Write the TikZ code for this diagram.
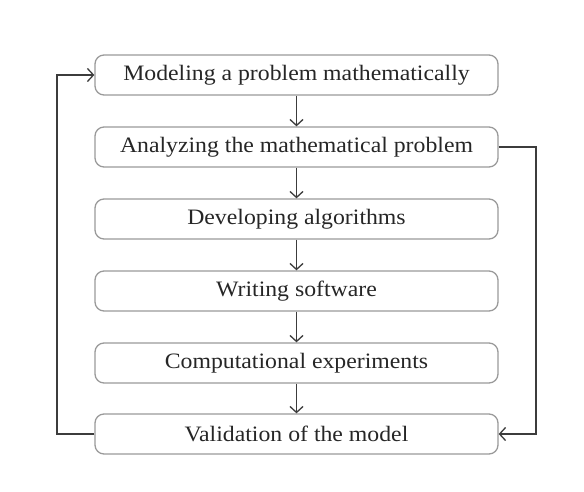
\documentclass[tikz,border=0pt]{standalone}
\usepackage{fontspec}
\setmainfont{Liberation Serif}[FakeStretch=1.08]
\usetikzlibrary{arrows.meta}
\definecolor{boxgray}{HTML}{9A9A9A}
\definecolor{linegray}{HTML}{3C3C3C}
\begin{document}
\begin{tikzpicture}[x=1pt,y=-1pt,
  stepbox/.style={draw=boxgray, line width=1.3pt, rounded corners=9pt, minimum width=403pt, minimum height=40pt, inner sep=0pt, font=\fontsize{22}{25}\selectfont, text=black!85},
  conn/.style={draw=linegray, line width=1.3pt, -{Straight Barb[length=6pt,width=13pt,line width=1.3pt]}}]
\useasboundingbox (0,0) rectangle (584,492);
\node[stepbox] (a) at (296.5,75) {Modeling a problem mathematically};
\node[stepbox] (b) at (296.5,147) {Analyzing the mathematical problem};
\node[stepbox] (c) at (296.5,219) {Developing algorithms};
\node[stepbox] (d) at (296.5,291) {Writing software};
\node[stepbox] (e) at (296.5,363) {Computational experiments};
\node[stepbox] (f) at (296.5,434) {Validation of the model};
\coordinate (lt) at (57,75);
\coordinate (lb) at (57,434);
\coordinate (rt) at (536,147);
\coordinate (rb) at (536,434);
\draw[conn] (a) -- (b);
\draw[conn] (b) -- (c);
\draw[conn] (c) -- (d);
\draw[conn] (d) -- (e);
\draw[conn] (e) -- (f);
\draw[conn] (f.west) -- (lb) -- (lt) -- (a.west);
\draw[conn] (b.east) -- (rt) -- (rb) -- (f.east);
\end{tikzpicture}
\end{document}
